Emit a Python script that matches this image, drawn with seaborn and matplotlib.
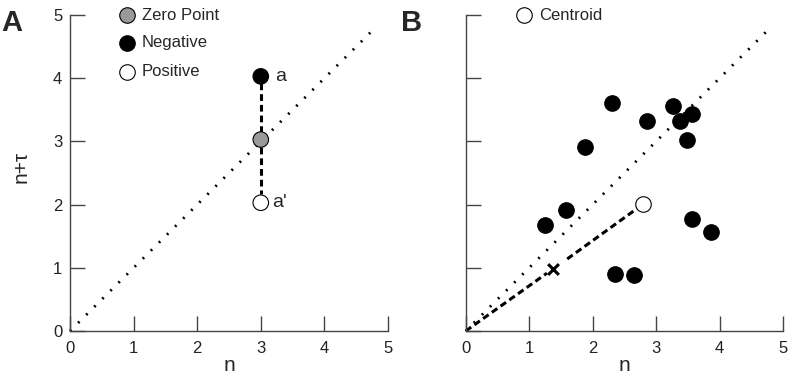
import numpy as np
import pandas as pd
import seaborn as sns
import matplotlib.pyplot as plt

# panel A: one point and its mirror across the diagonal
a_x = [3.0, 3.0, 3.0]
a_y = [4.03, 3.03, 2.03]
a_kind = ['Negative', 'Zero Point', 'Positive']

# panel B: negative points and their centroid
b_x = [2.31, 2.85, 3.26, 3.38, 3.56, 3.49, 1.88, 1.58, 1.25, 3.57, 3.86, 2.35, 2.65]
b_y = [3.61, 3.33, 3.56, 3.33, 3.44, 3.03, 2.92, 1.91, 1.67, 1.78, 1.57, 0.90, 0.88]
cent_x, cent_y = 2.80, 2.01
cross_x, cross_y = 1.38, 0.98

ticks = [0, 1, 2, 3, 4, 5]
diag = [0, 4.8]

sns.set_style("ticks")
plt.rcParams['font.family'] = ['Liberation Sans', 'DejaVu Sans']

fig = plt.figure(figsize=(7.9, 3.77), dpi=100)
axA = fig.add_axes([0.0886, 0.122, 0.4025, 0.838])
axB = fig.add_axes([0.5895, 0.122, 0.4016, 0.838])

colors = {'Negative': 'black', 'Zero Point': '#999999', 'Positive': 'white'}
dots = (0, (0.7, 3.4))
dash = (0, (2.2, 1.3))

for ax in (axA, axB):
    ax.plot(diag, diag, color='black', lw=2, linestyle=dots, clip_on=False)
    ax.set_xlim(0, 5)
    ax.set_ylim(0, 5)
    ax.set_xticks(ticks)
    ax.set_yticks(ticks)
    ax.tick_params(direction='in', length=11, width=1, colors='#444444',
                   labelsize=12, labelcolor='#222222')
    ax.tick_params(axis='x', pad=7)
    ax.tick_params(axis='y', pad=5.5)
    for s in ['top', 'right']:
        ax.spines[s].set_visible(False)
    for s in ['left', 'bottom']:
        ax.spines[s].set_color('#444444')
        ax.spines[s].set_linewidth(1)
    ax.set_xlabel('n', fontsize=15, labelpad=0)

# panel A
dfA = pd.DataFrame({'x': a_x, 'y': a_y, 'kind': a_kind})
axA.plot([3, 3], [3.93, 2.17], color='black', lw=2.2, linestyle=dash)
sns.scatterplot(data=dfA, x='x', y='y', hue='kind', palette=colors, s=125,
                edgecolor='black', linewidth=0.8, legend=False, ax=axA,
                zorder=5, clip_on=False)
axA.text(3.23, 4.03, 'a', fontsize=14, va='center')
axA.text(3.18, 2.03, "a'", fontsize=14, va='center')
leg_y = [5.0, 4.56, 4.1]
leg_k = ['Zero Point', 'Negative', 'Positive']
for yy, k in zip(leg_y, leg_k):
    axA.scatter([0.9], [yy], s=125, color=colors[k], edgecolor='black',
                linewidth=0.8, clip_on=False, zorder=5)
    axA.text(1.13, yy, k, fontsize=12, va='center')
axA.set_ylabel('n+τ', fontsize=15)
axA.yaxis.set_label_coords(-0.125, 0.52)
fig.text(0.001, 0.975, 'A', fontsize=21, fontweight='bold', va='top')

# panel B
dfB = pd.DataFrame({'x': b_x, 'y': b_y})
axB.plot([0, 1.28], [0, 0.915], color='black', lw=2.2, linestyle=dash)
axB.plot([1.6, cent_x - 0.07], [1.14, cent_y - 0.05], color='black', lw=2.2,
         linestyle=dash)
sns.scatterplot(data=dfB, x='x', y='y', color='black', s=125, edgecolor='black',
                linewidth=0.8, ax=axB, zorder=5)
axB.scatter([cent_x], [cent_y], s=125, color='white', edgecolor='black',
            linewidth=0.8, zorder=6)
axB.scatter([cross_x], [cross_y], marker='x', s=60, color='black', linewidth=2.2,
            zorder=6)
axB.scatter([0.92], [5.0], s=125, color='white', edgecolor='black',
            linewidth=0.8, clip_on=False, zorder=5)
axB.text(1.15, 5.0, 'Centroid', fontsize=12, va='center')
axB.set_yticklabels([])
axB.set_ylabel('')
fig.text(0.508, 0.975, 'B', fontsize=21, fontweight='bold', va='top')

fig.savefig('out.png', dpi=100)
